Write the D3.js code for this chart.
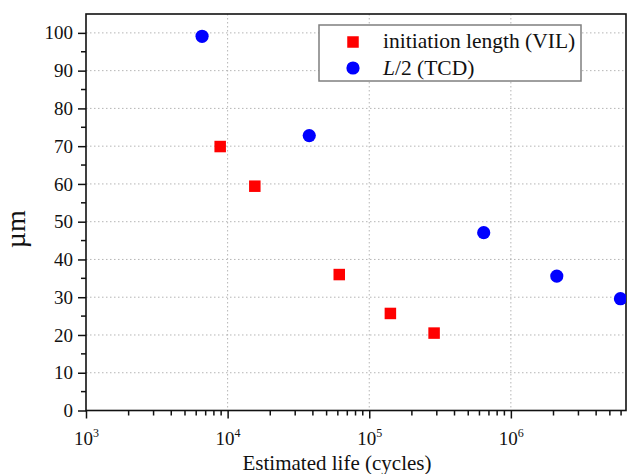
<!DOCTYPE html>
<html>
<head>
<meta charset="utf-8">
<script src="https://cdn.jsdelivr.net/npm/d3@7"></script>
<style>
  body { margin: 0; background: white; }
  svg { display: block; }
  text { font-family: "Liberation Serif", "Times New Roman", serif; fill: #111; }
</style>
</head>
<body>
<svg class="chart" width="627" height="474"></svg>
<script>
const vilLife = [8.86e3, 1.556e4, 6.14e4, 1.41e5, 2.87e5];
const vilLength = [69.9, 59.4, 36.0, 25.7, 20.5];
const tcdLife = [6.6e3, 3.77e4, 6.43e5, 2.11e6, 5.94e6];
const tcdLength = [99.1, 72.8, 47.1, 35.6, 29.6];
const xTicks = [1e3, 1e4, 1e5, 1e6];
const yTicks = [0, 10, 20, 30, 40, 50, 60, 70, 80, 90, 100];
const legendLabels = ["initiation length (VIL)", "L/2 (TCD)"];

const plotLeft = 86, plotRight = 626, plotTop = 14, plotBottom = 410.5;
const red = "#ff0000";
const blue = "#0000ff";
const gridStroke = "#b5b5b5";

const svg = d3.select("svg.chart");

const x = d3.scaleLog().domain([1e3, 6.5e6]).range([plotLeft, plotRight]);
const y = d3.scaleLinear().domain([0, 105]).range([plotBottom, plotTop]);

// minor ticks
const xMinor = [];
for (let e = 3; e <= 6; e++) {
  for (let m = 2; m <= 9; m++) {
    const v = m * Math.pow(10, e);
    if (v <= 6.5e6) xMinor.push(v);
  }
}
const yMinor = d3.range(5, 100, 10);

// grid
const grid = svg.append("g").attr("class", "grid");
grid.selectAll("line.gy")
  .data(yTicks.filter((d) => d > 0))
  .join("line")
  .attr("class", "gy")
  .attr("x1", plotLeft).attr("x2", plotRight)
  .attr("y1", (d) => y(d)).attr("y2", (d) => y(d))
  .attr("stroke", gridStroke)
  .attr("stroke-width", 1)
  .attr("stroke-dasharray", "1.5,2.5");
grid.selectAll("line.gx")
  .data(xTicks.filter((d) => d > 1e3))
  .join("line")
  .attr("class", "gx")
  .attr("x1", (d) => x(d)).attr("x2", (d) => x(d))
  .attr("y1", plotTop).attr("y2", plotBottom)
  .attr("stroke", gridStroke)
  .attr("stroke-width", 1)
  .attr("stroke-dasharray", "1.5,2.5");

// frame
svg.append("rect")
  .attr("x", plotLeft).attr("y", plotTop)
  .attr("width", plotRight - plotLeft).attr("height", plotBottom - plotTop)
  .attr("fill", "none")
  .attr("stroke", "#111")
  .attr("stroke-width", 1.6);

// y axis
const yAxis = svg.append("g").attr("transform", `translate(${plotLeft},0)`);
yAxis.call(d3.axisLeft(y).tickValues(yTicks).tickSize(8).tickPadding(5).tickFormat(d3.format("d")));
yAxis.select(".domain").remove();
yAxis.selectAll(".tick line").attr("stroke", "#111").attr("stroke-width", 1.5);
yAxis.selectAll(".tick text").style("font-size", "19px").attr("fill", "#111")
  .style("font-family", "'Liberation Serif', serif");
yAxis.selectAll("line.minor")
  .data(yMinor)
  .join("line")
  .attr("class", "minor")
  .attr("x1", -5).attr("x2", 0)
  .attr("y1", (d) => y(d)).attr("y2", (d) => y(d))
  .attr("stroke", "#111").attr("stroke-width", 1.5);

// x axis
const xAxis = svg.append("g").attr("transform", `translate(0,${plotBottom})`);
xAxis.call(d3.axisBottom(x).tickValues(xTicks).tickSize(8).tickFormat(""));
xAxis.select(".domain").remove();
xAxis.selectAll(".tick line").attr("stroke", "#111").attr("stroke-width", 1.5);
xAxis.selectAll("line.minor")
  .data(xMinor)
  .join("line")
  .attr("class", "minor")
  .attr("x1", (d) => x(d)).attr("x2", (d) => x(d))
  .attr("y1", 0).attr("y2", 5)
  .attr("stroke", "#111").attr("stroke-width", 1.5);
xAxis.selectAll(".tick").each(function (d) {
  const t = d3.select(this).append("text")
    .attr("y", 34)
    .attr("text-anchor", "middle")
    .attr("fill", "#111")
    .style("font-size", "19px")
    .style("font-family", "'Liberation Serif', serif");
  t.append("tspan").text("10");
  t.append("tspan")
    .attr("dy", -8)
    .style("font-size", "12px")
    .text(Math.round(Math.log10(d)));
});

// axis titles
svg.append("text")
  .attr("x", 337)
  .attr("y", 470)
  .attr("text-anchor", "middle")
  .style("font-size", "21px")
  .text("Estimated life (cycles)");
svg.append("text")
  .attr("transform", `translate(25,${y(48)}) rotate(-90)`)
  .attr("text-anchor", "middle")
  .style("font-size", "28px")
  .text("\u00b5m");

// points
svg.append("clipPath").attr("id", "plot-clip")
  .append("rect")
  .attr("x", plotLeft).attr("y", plotTop)
  .attr("width", plotRight - plotLeft).attr("height", plotBottom - plotTop);

const points = svg.append("g").attr("clip-path", "url(#plot-clip)");
const sq = 11.5;
points.selectAll("rect.vil")
  .data(vilLife.map((v, i) => ({ life: v, len: vilLength[i] })))
  .join("rect")
  .attr("class", "vil")
  .attr("x", (d) => x(d.life) - sq / 2)
  .attr("y", (d) => y(d.len) - sq / 2)
  .attr("width", sq).attr("height", sq)
  .attr("fill", red);
points.selectAll("circle.tcd")
  .data(tcdLife.map((v, i) => ({ life: v, len: tcdLength[i] })))
  .join("circle")
  .attr("class", "tcd")
  .attr("cx", (d) => x(d.life))
  .attr("cy", (d) => y(d.len))
  .attr("r", 6.6)
  .attr("fill", blue);

// legend
const legend = svg.append("g").attr("transform", "translate(319,25)");
legend.append("rect")
  .attr("width", 262).attr("height", 56)
  .attr("fill", "white")
  .attr("stroke", "#7f7f7f")
  .attr("stroke-width", 1.5);
legend.append("rect")
  .attr("x", 34 - sq / 2).attr("y", 17 - sq / 2)
  .attr("width", sq).attr("height", sq)
  .attr("fill", red);
legend.append("circle")
  .attr("cx", 34).attr("cy", 43)
  .attr("r", 6.6)
  .attr("fill", blue);
legend.append("text")
  .attr("x", 64).attr("y", 23)
  .style("font-size", "21.5px")
  .text(legendLabels[0]);
const l2 = legend.append("text")
  .attr("x", 64).attr("y", 50)
  .style("font-size", "21.5px");
l2.append("tspan").style("font-style", "italic").text(legendLabels[1].slice(0, 1));
l2.append("tspan").text(legendLabels[1].slice(1));
</script>
</body>
</html>
